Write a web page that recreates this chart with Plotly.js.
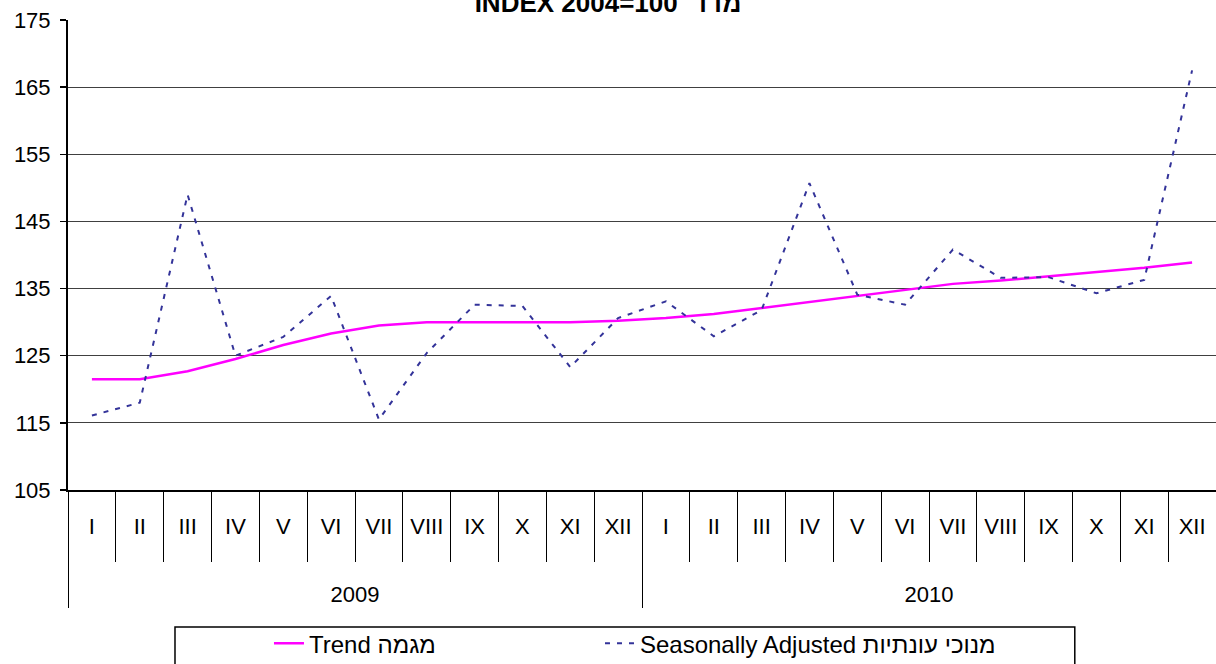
<!DOCTYPE html>
<html>
<head>
<meta charset="utf-8">
<script src="https://cdn.plot.ly/plotly-3.0.1.min.js"></script>
<style>
  html, body { margin: 0; padding: 0; background: #fff; }
  #graph { width: 1216px; height: 664px; }
</style>
</head>
<body>
<div id="graph"></div>
<script>
const years = ['2009', '2010'];
const months = ['I', 'II', 'III', 'IV', 'V', 'VI', 'VII', 'VIII', 'IX', 'X', 'XI', 'XII'];

const trend2009 = [121.5, 121.5, 122.7, 124.5, 126.6, 128.3, 129.5, 130.0, 130.0, 130.0, 130.0, 130.2];
const trend2010 = [130.6, 131.2, 132.1, 133.0, 134.0, 134.9, 135.7, 136.2, 136.8, 137.4, 138.1, 138.9];

const sa2009 = [116.1, 118.0, 149.0, 125.0, 127.8, 133.9, 115.5, 125.4, 132.6, 132.4, 123.3, 130.6];
const sa2010 = [133.1, 127.9, 131.8, 150.7, 134.1, 132.6, 140.8, 136.6, 136.7, 134.3, 136.3, 167.5];

const titleText = 'INDEX 2004=100  מדד';
const trendName = 'Trend מגמה';
const saName = 'Seasonally Adjusted מנוכי עונתיות';

const font = 'Arial, "Liberation Sans", "DejaVu Sans", sans-serif';

// multicategory x: [year, month]; the year row sits two lines lower, like the reference
const xYear = [], xMonth = [];
years.forEach(y => months.forEach(m => { xYear.push('<br><br>' + y); xMonth.push(m); }));

const trend = {
  x: [xYear, xMonth],
  y: trend2009.concat(trend2010),
  type: 'scatter',
  mode: 'lines',
  name: trendName,
  legend: 'legend',
  line: { color: '#ff00ff', width: 2.5 }
};

const sa = {
  x: [xYear, xMonth],
  y: sa2009.concat(sa2010),
  type: 'scatter',
  mode: 'lines',
  name: saName,
  legend: 'legend2',
  line: { color: '#333399', width: 2, dash: '5px,7px' }
};

const legendBase = {
  orientation: 'h',
  xref: 'container',
  yref: 'container',
  xanchor: 'left',
  y: 0.0645,
  yanchor: 'top',
  borderwidth: 0,
  bgcolor: 'rgba(0,0,0,0)',
  font: { family: font, size: 24, color: '#000' }
};

const layout = {
  width: 1216,
  height: 664,
  margin: { l: 68, r: 0, t: 20, b: 174 },
  paper_bgcolor: '#fff',
  plot_bgcolor: '#fff',
  font: { family: font, size: 22, color: '#000' },
  title: {
    text: '<b>' + titleText + '</b>',
    font: { family: font, size: 26, color: '#000' },
    x: 0.5,
    xanchor: 'center',
    yref: 'container',
    y: 0.996,
    yanchor: 'middle'
  },
  showlegend: true,
  legend: Object.assign({}, legendBase, { x: 0.2212 }),
  legend2: Object.assign({}, legendBase, { x: 0.4934 }),
  // legend frame, running off the bottom edge like the reference
  shapes: [{
    type: 'rect',
    xref: 'paper', yref: 'paper',
    x0: 0.0932, x1: 0.877, y0: -0.2915, y1: -0.39,
    line: { color: '#000', width: 1.5 },
    fillcolor: 'rgba(0,0,0,0)'
  }],
  xaxis: {
    type: 'multicategory',
    range: [-0.5, 23.5],
    showgrid: false,
    zeroline: false,
    showline: true,
    linecolor: '#000',
    linewidth: 1.5,
    ticks: 'outside',
    tickson: 'boundaries',
    ticklen: 70,
    tickcolor: '#000',
    tickwidth: 1,
    ticklabelstandoff: 16,
    showdividers: true,
    dividercolor: '#000',
    dividerwidth: 1,
    tickfont: { family: font, size: 22, color: '#000' }
  },
  yaxis: {
    range: [105, 175],
    dtick: 10,
    tick0: 105,
    showgrid: true,
    gridcolor: '#404040',
    gridwidth: 1,
    zeroline: false,
    showline: true,
    linecolor: '#000',
    linewidth: 2,
    ticks: 'outside',
    ticklen: 6,
    tickcolor: '#000',
    tickwidth: 1.5,
    ticklabelstandoff: 5,
    tickfont: { family: font, size: 22, color: '#000' }
  }
};

Plotly.newPlot('graph', [trend, sa], layout, { displayModeBar: false, staticPlot: true });
</script>
</body>
</html>
